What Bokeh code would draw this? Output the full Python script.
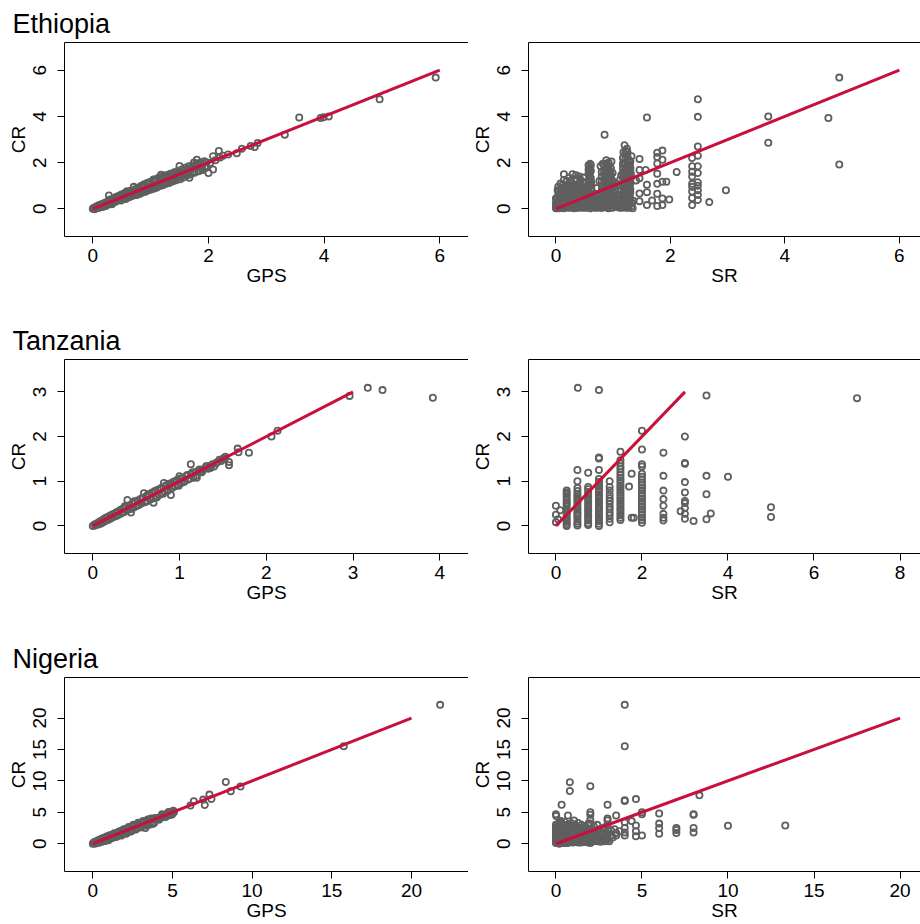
from bokeh.plotting import figure
from bokeh.models import Range1d, FixedTicker, LinearAxis, Title
from bokeh.layouts import column, row
from bokeh.embed import file_html
from bokeh.resources import INLINE

# ---------------- data (CR against GPS and SR) ----------------
countries = ["Ethiopia", "Tanzania", "Nigeria"]

eth_gps_points = [
    (0.00, 0.00), (0.02, 0.05), (0.03, -0.02), (0.05, 0.08), (0.06, 0.02), (0.08, 0.12), (0.09, 0.04),
    (0.10, 0.09), (0.11, 0.16), (0.12, 0.06), (0.14, 0.10), (0.15, 0.20), (0.17, 0.08), (0.18, 0.22),
    (0.20, 0.14), (0.20, 0.19), (0.21, 0.26), (0.23, 0.12), (0.25, 0.30), (0.25, 0.22), (0.26, 0.18),
    (0.28, 0.58), (0.29, 0.22), (0.31, 0.36), (0.32, 0.26), (0.34, 0.42), (0.35, 0.30), (0.36, 0.28),
    (0.38, 0.46), (0.40, 0.34), (0.42, 0.50), (0.44, 0.36), (0.45, 0.50), (0.46, 0.56), (0.48, 0.40),
    (0.50, 0.62), (0.52, 0.44), (0.54, 0.66), (0.55, 0.56), (0.56, 0.48), (0.58, 0.70), (0.60, 0.52),
    (0.62, 0.74), (0.64, 0.55), (0.65, 0.64), (0.66, 0.78), (0.68, 0.58), (0.71, 0.95), (0.72, 0.62),
    (0.75, 0.86), (0.75, 0.74), (0.77, 0.66), (0.80, 0.92), (0.82, 0.70), (0.85, 0.96), (0.85, 0.84),
    (0.87, 0.76), (0.90, 1.02), (0.92, 0.80), (0.95, 1.08), (0.95, 0.94), (0.97, 0.86), (1.00, 1.12),
    (1.02, 0.90), (1.05, 1.27), (1.05, 1.04), (1.07, 0.96), (1.10, 1.18), (1.12, 1.00), (1.15, 1.26),
    (1.15, 1.12), (1.18, 1.47), (1.20, 1.08), (1.22, 1.32), (1.25, 1.12), (1.25, 1.24), (1.28, 1.38),
    (1.30, 1.16), (1.33, 1.42), (1.35, 1.36), (1.36, 1.22), (1.39, 1.50), (1.42, 1.30), (1.45, 1.56),
    (1.45, 1.46), (1.48, 1.36), (1.50, 1.85), (1.52, 1.60), (1.55, 1.42), (1.55, 1.54), (1.58, 1.66),
    (1.61, 1.48), (1.64, 1.72), (1.65, 1.62), (1.67, 1.34), (1.70, 1.76), (1.73, 1.58), (1.75, 2.00),
    (1.78, 1.80), (1.80, 2.12), (1.82, 1.66), (1.85, 1.90), (1.88, 1.74), (1.91, 1.96), (1.94, 1.82),
    (1.97, 2.02), (2.00, 1.55), (2.03, 1.98), (2.08, 1.70), (2.08, 2.28), (2.12, 2.10), (2.18, 2.50),
    (2.20, 2.22), (2.25, 2.30), (2.34, 2.35), (2.49, 2.40), (2.58, 2.60), (2.73, 2.72), (2.80, 2.67),
    (2.85, 2.85), (3.32, 3.21), (3.57, 3.95), (3.94, 3.93), (3.99, 3.96), (4.08, 4.00), (4.96, 4.74),
    (5.93, 5.68),
    (0.30, 0.40), (0.33, 0.20), (0.39, 0.30), (0.41, 0.52), (0.47, 0.58), (0.49, 0.36), (0.53, 0.62),
    (0.57, 0.42), (0.59, 0.76), (0.63, 0.50), (0.67, 0.72), (0.69, 0.56), (0.73, 0.84), (0.76, 0.60),
    (0.79, 0.88), (0.81, 0.64), (0.84, 1.00), (0.86, 0.70), (0.89, 1.06), (0.91, 0.74), (0.94, 1.12),
    (0.96, 0.80), (0.99, 1.16), (1.01, 0.84), (1.04, 1.20), (1.06, 0.88), (1.09, 1.28), (1.11, 0.92),
    (1.14, 1.34), (1.17, 1.00), (1.19, 1.38), (1.21, 1.02), (1.24, 1.44), (1.27, 1.08), (1.29, 1.46),
    (1.32, 1.12), (1.34, 1.52), (1.38, 1.18), (1.41, 1.58), (1.44, 1.24), (1.47, 1.64), (1.51, 1.28),
    (1.54, 1.70), (1.57, 1.36), (1.60, 1.78), (1.63, 1.44), (1.66, 1.84), (1.69, 1.50), (1.72, 1.86),
    (1.76, 1.56), (1.79, 1.94), (1.83, 1.62), (1.86, 2.00), (1.90, 1.68), (1.93, 2.06), (1.96, 1.78),
]

eth_sr_points = [
    (0.00, 0.02), (0.00, 0.10), (0.00, 0.25), (0.02, 0.05), (0.02, 0.40), (0.03, 0.15), (0.04, 0.60),
    (0.05, 0.75), (0.05, 0.30), (0.06, 0.02), (0.07, 0.20), (0.08, 0.45), (0.09, 0.08), (0.10, 0.55),
    (0.10, 0.30), (0.11, 0.85), (0.12, 0.12), (0.13, 0.40), (0.14, 0.65), (0.14, 1.50), (0.15, 0.05),
    (0.16, 0.25), (0.17, 0.90), (0.18, 0.50), (0.19, 0.15), (0.20, 0.35), (0.20, 0.70), (0.22, 0.05),
    (0.23, 0.60), (0.24, 1.00), (0.25, 0.30), (0.26, 1.20), (0.27, 0.15), (0.28, 0.80), (0.29, 1.50),
    (0.30, 0.45), (0.32, 0.02), (0.33, 0.95), (0.34, 0.25), (0.35, 0.65), (0.36, 1.30), (0.37, 0.10),
    (0.38, 0.50), (0.40, 1.10), (0.41, 0.30), (0.42, 0.75), (0.43, 1.25), (0.44, 0.05), (0.45, 0.55),
    (0.46, 0.90), (0.47, 0.20), (0.48, 1.35), (0.50, 0.40), (0.50, 0.70), (0.55, 0.10), (0.56, 0.40),
    (0.57, 0.70), (0.57, 1.70), (0.58, 1.00), (0.58, 1.45), (0.59, 1.30), (0.59, 1.60), (0.60, 1.95),
    (0.60, 1.80), (0.60, 0.02), (0.61, 0.20), (0.61, 0.55), (0.62, 0.85), (0.62, 1.15), (0.65, 0.30),
    (0.68, 0.60), (0.70, 0.10), (0.72, 0.90), (0.75, 0.40), (0.76, 1.20), (0.78, 0.05), (0.78, 1.85),
    (0.83, 0.10), (0.84, 0.50), (0.85, 0.90), (0.85, 3.21), (0.86, 1.30), (0.87, 1.70), (0.88, 2.10),
    (0.88, 0.30), (0.89, 0.70), (0.90, 1.10), (0.90, 1.50), (0.91, 1.90), (0.92, 0.02), (0.92, 2.00),
    (0.93, 0.40), (0.94, 0.80), (0.94, 1.20), (0.95, 1.60), (0.96, 0.15), (0.98, 0.50), (1.00, 0.25),
    (1.02, 0.80), (1.05, 1.10), (1.08, 0.10), (1.10, 0.60), (1.12, 1.25), (1.16, 0.05), (1.17, 0.40),
    (1.18, 0.80), (1.18, 1.20), (1.19, 1.60), (1.20, 2.00), (1.20, 2.75), (1.21, 0.20), (1.22, 0.60),
    (1.22, 1.00), (1.23, 1.40), (1.23, 1.80), (1.24, 2.60), (1.25, 2.28), (1.25, 0.10), (1.26, 0.50),
    (1.27, 0.90), (1.27, 1.30), (1.28, 1.70), (1.29, 1.92), (1.29, 0.30), (1.30, 1.10), (1.30, 0.70),
    (1.30, 1.78), (1.31, 1.50), (1.32, 2.28), (1.40, 1.23), (1.46, 2.16), (1.46, 1.68), (1.46, 1.32),
    (1.46, 0.66), (1.46, 0.33), (1.57, 1.68), (1.59, 3.95), (1.59, 1.04), (1.59, 0.72), (1.59, 0.16),
    (1.68, 0.36), (1.77, 2.43), (1.77, 2.24), (1.77, 1.96), (1.77, 1.52), (1.77, 1.08), (1.77, 0.65),
    (1.77, 0.12), (1.86, 2.52), (1.86, 2.12), (1.86, 1.17), (1.86, 0.45), (1.86, 0.16), (1.93, 1.17),
    (1.98, 0.40), (2.11, 1.59), (2.38, 2.20), (2.38, 1.84), (2.38, 1.60), (2.38, 1.40), (2.38, 1.08),
    (2.38, 0.95), (2.38, 0.75), (2.38, 0.47), (2.38, 0.16), (2.48, 4.74), (2.48, 3.98), (2.48, 2.70),
    (2.48, 2.30), (2.48, 1.84), (2.48, 1.55), (2.48, 1.15), (2.48, 1.00), (2.48, 0.80), (2.48, 0.60),
    (2.48, 0.38), (2.68, 0.29), (2.97, 0.80), (3.71, 4.00), (3.71, 2.86), (4.76, 3.93), (4.95, 5.68),
    (4.95, 1.92),
    (0.00, 0.45), (0.03, 0.28), (0.06, 0.50), (0.09, 0.18), (0.12, 0.38), (0.15, 0.55), (0.18, 0.08),
    (0.21, 0.28), (0.24, 0.48), (0.27, 0.05), (0.30, 0.22), (0.33, 0.42), (0.36, 0.05), (0.39, 0.30),
    (0.42, 0.52), (0.45, 0.10), (0.48, 0.28), (0.51, 0.50), (0.54, 0.05), (0.57, 0.25), (0.60, 0.45),
    (0.63, 0.08), (0.66, 0.50), (0.69, 0.28), (0.72, 0.05), (0.75, 0.22), (0.78, 0.45), (0.81, 0.05),
    (0.84, 0.28), (0.87, 0.50), (0.90, 0.12), (0.93, 0.30), (0.96, 0.48), (0.99, 0.05), (1.02, 0.25),
    (1.05, 0.45), (1.08, 0.30), (1.11, 0.05), (1.14, 0.40), (1.17, 0.20), (1.20, 0.48), (1.23, 0.05),
    (1.26, 0.28), (1.29, 0.50), (1.32, 0.10), (1.35, 0.35), (0.02, 0.12), (0.08, 0.33), (0.14, 0.02),
    (0.20, 0.52), (0.26, 0.38), (0.32, 0.15), (0.38, 0.05), (0.44, 0.40), (0.50, 0.15), (0.56, 0.52),
    (0.62, 0.30), (0.68, 0.05), (0.74, 0.40), (0.80, 0.25), (0.86, 0.15), (0.92, 0.52), (0.98, 0.38),
    (1.04, 0.10), (1.10, 0.52), (1.16, 0.30), (1.22, 0.15), (1.28, 0.40), (1.34, 0.02),
    (0.04, 0.95), (0.09, 0.70), (0.12, 1.05), (0.16, 0.78), (0.19, 1.20), (0.22, 0.88), (0.25, 0.70),
    (0.28, 1.10), (0.31, 0.85), (0.34, 1.25), (0.37, 0.70), (0.40, 0.90), (0.44, 1.05), (0.47, 0.75),
    (0.50, 1.15), (0.52, 0.90), (0.54, 0.65),
    (0.57, 0.30), (0.61, 0.45), (0.57, 0.62), (0.61, 0.78), (0.57, 0.92), (0.61, 1.05), (0.57, 1.18),
    (0.61, 1.32), (0.57, 1.52), (0.61, 1.65), (0.57, 1.88), (0.61, 1.90),
    (0.80, 0.60), (0.80, 0.80), (0.80, 1.00), (0.80, 1.20), (0.80, 1.40), (0.80, 1.60), (0.82, 1.95),
    (0.88, 0.55), (0.88, 0.75), (0.88, 0.95), (0.88, 1.15), (0.88, 1.35), (0.88, 1.55), (0.88, 1.75),
    (0.88, 1.95), (0.96, 0.60), (0.96, 0.85), (0.96, 1.05), (0.96, 1.30), (0.96, 1.45), (0.96, 1.75),
    (0.97, 2.05), (1.00, 0.70), (1.02, 1.00),
    (1.17, 0.60), (1.17, 0.95), (1.17, 1.10), (1.17, 1.35), (1.17, 1.55), (1.17, 1.75), (1.17, 1.95),
    (1.17, 2.20), (1.18, 2.45), (1.25, 0.65), (1.25, 0.80), (1.25, 1.05), (1.25, 1.25), (1.25, 1.45),
    (1.25, 1.65), (1.25, 1.85), (1.25, 2.05), (1.25, 2.45), (1.30, 0.85), (1.30, 1.25), (1.30, 1.65),
    (1.30, 2.05), (1.14, 0.80), (1.14, 1.45),
    (0.01, 0.20), (0.04, 0.05), (0.07, 0.38), (0.10, 0.15), (0.13, 0.52), (0.16, 0.40), (0.19, 0.30),
    (0.22, 0.42), (0.25, 0.12), (0.28, 0.35), (0.31, 0.58), (0.34, 0.08), (0.37, 0.40), (0.40, 0.18),
    (0.43, 0.30), (0.46, 0.45), (0.49, 0.05), (0.52, 0.25), (0.55, 0.38), (0.58, 0.12), (0.61, 0.62),
    (0.64, 0.40), (0.67, 0.18), (0.70, 0.42), (0.73, 0.60), (0.76, 0.10), (0.79, 0.32), (0.82, 0.48),
    (0.85, 0.20), (0.88, 0.42), (0.91, 0.05), (0.94, 0.22), (0.97, 0.62), (1.00, 0.45), (1.03, 0.15),
    (1.06, 0.60), (1.09, 0.18), (1.12, 0.42), (1.15, 0.12), (1.18, 0.30), (1.21, 0.55), (1.24, 0.22),
    (1.27, 0.05), (1.30, 0.40), (1.33, 0.25),
    (0.03, 0.80), (0.07, 0.62), (0.11, 0.72), (0.15, 0.95), (0.18, 0.62), (0.21, 1.05), (0.24, 0.82),
    (0.27, 0.62), (0.30, 1.00), (0.33, 0.78), (0.36, 0.90), (0.39, 0.62), (0.42, 0.98), (0.45, 0.72),
    (0.48, 0.88), (0.51, 0.62), (0.35, 1.45), (0.23, 1.35), (0.41, 1.40), (0.08, 1.10), (0.14, 1.25),
    (0.59, 0.35), (0.59, 0.68), (0.59, 0.98), (0.59, 1.22), (0.59, 1.50), (0.59, 1.75),
    (0.84, 0.65), (0.84, 0.88), (0.84, 1.08), (0.84, 1.28), (0.84, 1.50), (0.84, 1.68), (0.84, 1.90),
    (0.92, 0.68), (0.92, 0.90), (0.92, 1.12), (0.92, 1.30), (0.92, 1.48), (0.92, 1.70), (0.92, 1.85),
    (0.99, 0.95), (0.99, 1.20), (0.99, 1.55),
    (1.21, 0.62), (1.21, 0.85), (1.21, 1.15), (1.21, 1.35), (1.21, 1.55), (1.21, 1.72), (1.21, 1.90),
    (1.21, 2.15), (1.21, 2.35), (1.28, 0.60), (1.28, 0.95), (1.28, 1.15), (1.28, 1.40), (1.28, 1.55),
    (1.28, 1.85), (1.28, 2.10), (1.22, 2.50),
]

tan_gps_points = [
    (0.00, 0.00), (0.02, 0.03), (0.03, 0.01), (0.05, 0.06), (0.06, 0.03), (0.08, 0.10), (0.09, 0.05),
    (0.11, 0.13), (0.12, 0.08), (0.14, 0.17), (0.15, 0.11), (0.17, 0.20), (0.18, 0.14), (0.20, 0.23),
    (0.21, 0.17), (0.23, 0.26), (0.24, 0.20), (0.26, 0.29), (0.27, 0.22), (0.29, 0.32), (0.30, 0.25),
    (0.32, 0.36), (0.33, 0.28), (0.35, 0.39), (0.36, 0.31), (0.38, 0.42), (0.40, 0.58), (0.40, 0.35),
    (0.42, 0.46), (0.44, 0.30), (0.44, 0.38), (0.46, 0.50), (0.47, 0.41), (0.49, 0.53), (0.50, 0.44),
    (0.52, 0.57), (0.53, 0.47), (0.55, 0.60), (0.56, 0.50), (0.58, 0.63), (0.59, 0.73), (0.60, 0.53),
    (0.62, 0.67), (0.63, 0.56), (0.65, 0.70), (0.66, 0.59), (0.68, 0.74), (0.70, 0.52), (0.70, 0.62),
    (0.72, 0.78), (0.73, 0.66), (0.75, 0.81), (0.77, 0.70), (0.79, 0.85), (0.80, 0.73), (0.82, 0.96),
    (0.83, 0.77), (0.85, 0.91), (0.87, 0.81), (0.89, 0.95), (0.90, 0.69), (0.91, 0.85), (0.93, 0.99),
    (0.95, 0.89), (0.97, 1.03), (0.98, 0.92), (1.00, 1.11), (1.02, 0.96), (1.04, 1.08), (1.06, 1.00),
    (1.08, 1.12), (1.10, 1.04), (1.13, 1.38), (1.13, 1.16), (1.16, 1.08), (1.18, 1.20), (1.20, 1.08),
    (1.22, 1.24), (1.24, 1.22), (1.27, 1.26), (1.30, 1.30), (1.33, 1.28), (1.35, 1.34), (1.38, 1.38),
    (1.40, 1.33), (1.43, 1.42), (1.48, 1.45), (1.51, 1.52), (1.53, 1.55), (1.57, 1.43), (1.57, 1.36),
    (1.67, 1.73), (1.68, 1.65), (1.80, 1.64), (2.06, 2.00), (2.13, 2.13), (2.96, 2.91), (3.17, 3.09),
    (3.34, 3.04), (3.92, 2.87),
    (0.10, 0.07), (0.16, 0.18), (0.22, 0.19), (0.28, 0.31), (0.34, 0.31), (0.37, 0.44), (0.43, 0.40),
    (0.48, 0.55), (0.51, 0.46), (0.57, 0.62), (0.61, 0.55), (0.64, 0.71), (0.67, 0.60), (0.71, 0.77),
    (0.74, 0.64), (0.78, 0.82), (0.81, 0.72), (0.84, 0.90), (0.86, 0.78), (0.88, 0.93), (0.92, 0.86),
    (0.96, 1.00), (0.99, 0.90), (1.01, 1.06), (1.05, 0.98), (1.09, 1.14), (1.12, 1.06), (1.15, 1.20),
    (1.19, 1.12), (1.23, 1.26), (1.26, 1.20), (1.31, 1.34), (1.36, 1.30), (1.42, 1.40), (1.46, 1.48),
    (1.52, 1.50),
]

tan_sr_points = [
    (0.00, 0.45), (0.00, 0.25), (0.00, 0.08), (0.05, 0.15), (0.10, 0.35),
    (0.25, 0.00), (0.25, 0.04), (0.25, 0.09), (0.25, 0.13), (0.25, 0.18), (0.25, 0.24), (0.25, 0.29),
    (0.25, 0.33), (0.25, 0.38), (0.25, 0.44), (0.25, 0.49), (0.25, 0.53), (0.25, 0.58), (0.25, 0.64),
    (0.25, 0.70), (0.25, 0.74), (0.25, 0.79),
    (0.50, 0.01), (0.50, 0.05), (0.50, 0.10), (0.50, 0.16), (0.50, 0.21), (0.50, 0.26), (0.50, 0.30),
    (0.50, 0.36), (0.50, 0.41), (0.50, 0.46), (0.50, 0.52), (0.50, 0.57), (0.50, 0.62), (0.50, 0.67),
    (0.50, 0.72), (0.50, 0.78), (0.50, 0.85), (0.50, 1.00), (0.50, 1.25), (0.51, 3.09),
    (0.75, 0.02), (0.75, 0.06), (0.75, 0.12), (0.75, 0.17), (0.75, 0.22), (0.75, 0.27), (0.75, 0.33),
    (0.75, 0.38), (0.75, 0.43), (0.75, 0.48), (0.75, 0.54), (0.75, 0.59), (0.75, 0.64), (0.75, 0.70),
    (0.75, 0.76), (0.75, 0.82), (0.75, 0.87), (0.75, 1.19),
    (1.00, 0.00), (1.00, 0.05), (1.00, 0.11), (1.00, 0.15), (1.00, 0.20), (1.00, 0.25), (1.00, 0.31),
    (1.00, 0.36), (1.00, 0.40), (1.00, 0.46), (1.00, 0.51), (1.00, 0.56), (1.00, 0.61), (1.00, 0.66),
    (1.00, 0.71), (1.00, 0.77), (1.00, 0.82), (1.00, 0.88), (1.00, 0.93), (1.00, 0.98), (1.00, 1.05),
    (1.00, 1.25), (1.00, 1.51), (1.00, 1.53), (1.00, 3.04),
    (1.25, 0.08), (1.25, 0.16), (1.25, 0.24), (1.25, 0.30), (1.25, 0.37), (1.25, 0.43), (1.25, 0.50),
    (1.25, 0.56), (1.25, 0.62), (1.25, 0.70), (1.25, 0.79), (1.25, 0.87), (1.25, 1.00),
    (1.50, 0.13), (1.50, 0.18), (1.50, 0.24), (1.50, 0.29), (1.50, 0.35), (1.50, 0.40), (1.50, 0.46),
    (1.50, 0.51), (1.50, 0.57), (1.50, 0.62), (1.50, 0.68), (1.50, 0.74), (1.50, 0.79), (1.50, 0.85),
    (1.50, 0.90), (1.50, 0.96), (1.50, 1.02), (1.50, 1.08), (1.50, 1.14), (1.50, 1.20), (1.50, 1.27),
    (1.50, 1.33), (1.50, 1.40), (1.50, 1.47), (1.50, 1.66),
    (1.76, 1.17), (1.70, 0.88), (1.76, 0.18), (1.81, 0.18),
    (2.00, 0.07), (2.00, 0.13), (2.00, 0.19), (2.00, 0.25), (2.00, 0.31), (2.00, 0.37), (2.00, 0.43),
    (2.00, 0.49), (2.00, 0.55), (2.00, 0.61), (2.00, 0.67), (2.00, 0.73), (2.00, 0.79), (2.00, 0.85),
    (2.00, 0.91), (2.00, 0.97), (2.00, 1.04), (2.00, 1.10), (2.00, 1.17), (2.00, 1.33), (2.00, 1.38),
    (2.00, 1.71), (2.00, 2.13),
    (2.50, 1.64), (2.50, 1.12), (2.50, 0.79), (2.50, 0.60), (2.50, 0.45), (2.50, 0.27), (2.50, 0.18),
    (2.50, 0.12),
    (3.00, 2.00), (3.00, 1.39), (3.00, 1.41), (3.00, 0.98), (3.00, 0.75), (3.00, 0.56), (3.00, 0.51),
    (3.00, 0.40), (3.00, 0.27), (3.00, 0.16),
    (2.90, 0.33), (3.20, 0.11), (3.50, 2.92), (3.50, 1.12), (3.50, 0.71), (3.60, 0.28), (3.50, 0.15),
    (4.00, 1.10), (5.00, 0.42), (5.00, 0.20), (7.00, 2.86),
]

nig_gps_points = [
    (0.00, 0.00), (0.05, 0.10), (0.10, 0.02), (0.15, 0.30), (0.20, 0.12), (0.25, 0.40), (0.30, 0.20),
    (0.35, 0.55), (0.40, 0.25), (0.45, 0.60), (0.50, 0.35), (0.55, 0.75), (0.60, 0.45), (0.65, 0.85),
    (0.70, 0.50), (0.75, 0.95), (0.80, 0.60), (0.85, 1.05), (0.90, 0.70), (0.95, 1.20), (1.00, 0.75),
    (1.10, 1.35), (1.15, 0.85), (1.25, 1.45), (1.30, 1.00), (1.40, 1.60), (1.45, 1.15), (1.55, 1.75),
    (1.60, 1.30), (1.70, 1.95), (1.75, 1.40), (1.85, 2.10), (1.90, 1.55), (2.00, 2.25), (2.05, 1.70),
    (2.15, 2.40), (2.20, 1.85), (2.30, 2.60), (2.35, 2.00), (2.45, 2.75), (2.50, 2.20), (2.60, 2.90),
    (2.65, 2.40), (2.75, 3.00), (2.80, 2.55), (2.90, 3.15), (2.95, 2.70), (3.05, 3.30), (3.10, 2.85),
    (3.20, 3.45), (3.30, 2.50), (3.30, 3.05), (3.40, 3.60), (3.50, 3.20), (3.60, 3.75), (3.70, 3.35),
    (3.80, 3.90), (3.85, 3.30), (4.00, 3.95), (4.10, 4.15), (4.20, 4.05), (4.30, 4.40), (4.40, 4.20),
    (4.50, 4.60), (4.60, 4.35), (4.70, 4.80), (4.80, 4.55), (4.90, 5.00), (5.00, 4.75), (5.10, 5.05),
    (6.13, 6.07), (6.34, 6.76), (6.93, 7.02), (7.03, 6.17), (7.32, 7.82), (7.45, 7.13), (8.35, 9.84),
    (8.66, 8.35), (9.27, 9.10), (15.75, 15.50), (21.80, 22.10),
    (0.08, 0.25), (0.18, 0.05), (0.28, 0.45), (0.38, 0.15), (0.48, 0.70), (0.58, 0.30), (0.68, 0.95),
    (0.78, 0.45), (0.88, 1.15), (0.98, 0.55), (1.05, 1.30), (1.20, 0.95), (1.35, 1.65), (1.50, 1.10),
    (1.65, 1.95), (1.80, 1.30), (1.95, 2.30), (2.10, 1.60), (2.25, 2.65), (2.40, 1.95), (2.55, 3.00),
    (2.70, 2.25), (2.85, 3.35), (3.00, 2.60), (3.15, 3.60), (3.35, 2.85), (3.45, 3.85), (3.55, 3.00),
    (3.65, 4.00), (3.75, 3.15), (3.90, 4.10), (4.15, 3.80), (4.35, 4.70), (4.55, 4.25), (4.75, 5.05),
    (4.95, 4.60), (5.05, 5.25),
]

nig_sr_points = [
    (0.00, 0.1), (0.00, 0.5), (0.00, 1.0), (0.00, 1.5), (0.00, 2.0), (0.00, 2.5), (0.00, 3.0),
    (0.00, 4.7), (0.02, 4.4), (0.10, 0.3), (0.10, 1.2), (0.10, 2.2), (0.20, 0.0), (0.20, 0.8),
    (0.20, 1.7), (0.20, 2.8), (0.25, 3.4), (0.33, 6.2), (0.33, 0.4), (0.33, 1.4), (0.33, 2.4),
    (0.40, 0.1), (0.40, 1.0), (0.40, 2.0), (0.40, 3.0), (0.50, 0.6), (0.50, 1.6), (0.50, 2.6),
    (0.50, 3.5), (0.60, 0.2), (0.60, 1.2), (0.60, 2.2), (0.70, 0.8), (0.70, 1.8), (0.70, 4.5),
    (0.70, 3.0), (0.81, 9.8), (0.81, 8.4), (0.80, 0.3), (0.80, 1.4), (0.80, 2.4), (0.90, 1.0),
    (0.90, 2.0), (0.90, 3.3), (1.00, 0.2), (1.00, 0.6), (1.00, 1.5), (1.00, 2.5), (1.05, 3.7),
    (1.10, 1.1), (1.10, 2.0), (1.10, 3.0), (1.20, 0.5), (1.20, 1.7), (1.20, 2.7), (1.30, 0.2),
    (1.30, 1.2), (1.30, 2.2), (1.30, 3.3), (1.40, 0.8), (1.40, 1.8), (1.50, 0.4), (1.50, 1.4),
    (1.50, 2.5), (1.50, 3.0), (1.60, 1.0), (1.60, 2.0), (1.70, 0.6), (1.70, 1.6), (1.70, 2.8),
    (1.80, 0.3), (1.80, 1.2), (1.80, 2.2), (1.90, 0.9), (1.90, 1.8), (1.90, 3.2), (2.00, 0.1),
    (2.00, 0.6), (2.00, 1.4), (2.00, 2.4), (2.00, 3.2), (2.00, 3.8), (2.00, 4.6), (2.00, 5.0),
    (2.00, 9.16), (2.20, 0.8), (2.20, 1.8), (2.20, 2.8), (2.40, 0.4), (2.40, 1.4), (2.40, 3.0),
    (2.50, 2.3), (2.70, 0.6), (2.70, 1.7), (2.80, 1.0), (2.80, 2.6), (3.00, 6.2), (3.00, 4.0),
    (3.00, 3.7), (3.00, 3.0), (3.00, 2.2), (3.00, 1.5), (3.00, 1.0), (3.00, 0.6), (3.20, 1.3),
    (3.20, 2.1), (3.50, 4.5), (3.50, 1.3), (3.50, 1.7), (3.70, 2.0), (4.00, 22.1), (4.00, 15.5),
    (4.00, 6.8), (4.00, 6.9), (4.00, 3.4), (4.00, 2.5), (4.00, 1.8), (4.00, 1.3), (4.40, 3.6),
    (4.65, 7.1), (4.65, 2.9), (4.65, 2.0), (4.65, 1.2), (5.00, 5.0), (5.00, 4.7), (5.00, 1.3),
    (6.00, 4.8), (6.00, 3.2), (6.00, 2.5), (6.00, 1.6), (7.00, 2.5), (7.00, 2.2), (7.00, 1.7),
    (8.00, 4.7), (8.00, 4.6), (8.00, 2.5), (8.00, 1.8), (8.34, 7.7), (10.00, 2.87), (13.33, 2.9),
    (0.05, 0.7), (0.05, 1.8), (0.05, 2.7), (0.15, 0.6), (0.15, 1.5), (0.15, 3.2), (0.25, 0.2),
    (0.25, 1.1), (0.25, 2.0), (0.30, 3.6), (0.45, 0.4), (0.45, 1.3), (0.45, 2.4), (0.55, 0.1),
    (0.55, 1.0), (0.55, 2.0), (0.65, 0.5), (0.65, 1.5), (0.65, 2.6), (0.75, 0.2), (0.75, 1.2),
    (0.75, 2.2), (0.85, 0.7), (0.85, 1.7), (0.95, 0.3), (0.95, 1.3), (0.95, 2.4), (1.05, 0.9),
    (1.05, 1.9), (1.15, 0.3), (1.15, 1.5), (1.25, 1.0), (1.25, 2.0), (1.35, 0.6), (1.35, 1.6),
    (1.45, 0.2), (1.45, 1.2), (1.45, 2.2), (1.55, 0.8), (1.55, 1.8), (1.65, 0.3), (1.65, 1.3),
    (1.75, 0.9), (1.75, 2.0), (1.85, 0.5), (1.85, 1.5), (1.95, 1.0), (1.95, 2.0), (2.10, 0.3),
    (2.10, 1.2), (2.10, 2.2), (2.30, 0.6), (2.30, 1.6), (2.50, 1.0), (2.60, 0.3), (2.60, 1.9),
    (2.90, 0.8), (2.90, 1.8), (3.10, 0.4), (3.30, 1.0), (3.40, 2.3),
    (0.08, 0.3), (0.08, 1.3), (0.08, 2.3), (0.18, 1.0), (0.18, 2.0), (0.18, 3.0), (0.28, 0.6),
    (0.28, 1.6), (0.28, 2.6), (0.38, 0.3), (0.38, 1.3), (0.38, 2.3), (0.48, 0.9), (0.48, 1.9),
    (0.48, 3.0), (0.58, 0.5), (0.58, 1.5), (0.58, 2.5), (0.68, 0.1), (0.68, 1.1), (0.68, 2.1),
    (0.78, 0.8), (0.78, 1.8), (0.78, 2.8), (0.88, 0.4), (0.88, 1.4), (0.88, 2.4), (0.98, 1.0),
    (0.98, 2.0), (1.08, 0.5), (1.08, 1.5), (1.08, 2.6), (1.18, 0.9), (1.18, 2.0), (1.28, 0.5),
    (1.28, 1.6), (1.38, 1.0), (1.38, 2.4), (1.48, 0.7), (1.48, 1.7), (1.58, 0.3), (1.58, 1.3),
    (1.68, 1.0), (1.68, 2.2), (1.78, 0.6), (1.78, 1.6), (1.88, 0.2), (1.88, 1.2), (1.98, 0.4),
    (1.98, 1.7), (2.15, 1.5), (2.35, 1.0), (2.45, 2.0), (2.65, 1.3), (2.85, 0.4),
]

# 45-degree reference lines (CR = x)
eth_line = [0, 6]
tan_line = [0, 3]
nig_line = [0, 20]

# tick positions
eth_x_ticks = [0, 2, 4, 6]
eth_y_ticks = [0, 2, 4, 6]
tan_gps_ticks = [0, 1, 2, 3, 4]
tan_sr_ticks = [0, 2, 4, 6, 8]
tan_y_ticks = [0, 1, 2, 3]
nig_x_ticks = [0, 5, 10, 15, 20]
nig_y_ticks = [0, 5, 10, 15, 20]

# ---------------- style ----------------
FONT = "Liberation Sans"
PT_COLOR = "#5f5f5f"
LINE_COLOR = "#C8103C"
TICK_FS = "19px"


def style_axis(ax, ticks, label, vertical=False):
    ax.ticker = FixedTicker(ticks=ticks)
    ax.minor_tick_line_color = None
    ax.major_tick_in = 0
    ax.major_tick_out = 7
    ax.major_tick_line_color = "black"
    ax.axis_line_color = "black"
    ax.major_label_text_font = FONT
    ax.major_label_text_font_size = TICK_FS
    ax.major_label_text_color = "black"
    ax.axis_label = label
    ax.axis_label_text_font = FONT
    ax.axis_label_text_font_size = TICK_FS
    ax.axis_label_text_font_style = "normal"
    ax.axis_label_text_color = "black"
    if vertical:
        ax.major_label_orientation = "vertical"
        ax.major_label_standoff = 11
        ax.axis_label_standoff = 2
    else:
        ax.major_label_standoff = 5
        ax.axis_label_standoff = 0


def panel(points, line_vals, xr, yr, xticks, yticks, xlabel, width, height, left, bottom,
          title=None):
    p = figure(width=width, height=height, x_range=Range1d(*xr), y_range=Range1d(*yr),
               output_backend="svg", toolbar_location=None,
               min_border_left=left, min_border_right=0, min_border_top=42,
               min_border_bottom=bottom)
    p.outline_line_color = None
    p.xgrid.visible = False
    p.ygrid.visible = False
    p.background_fill_color = "white"
    p.border_fill_color = "white"
    xs = [a for a, b in points]
    ys = [b for a, b in points]
    p.scatter(xs, ys, marker="circle", size=6.2, fill_color=None,
              line_color=PT_COLOR, line_width=1.8)
    p.line(line_vals, line_vals, line_color=LINE_COLOR, line_width=3)
    style_axis(p.xaxis[0], xticks, xlabel)
    style_axis(p.yaxis[0], yticks, "CR", vertical=True)
    top_axis = LinearAxis(ticker=FixedTicker(ticks=[]), major_tick_line_color=None,
                          minor_tick_line_color=None, major_label_text_font_size="0px",
                          axis_line_color="black", major_label_standoff=0, axis_label_standoff=0)
    p.add_layout(top_axis, "above")
    if title:
        p.add_layout(Title(text=title, align="left", offset=-52, standoff=7,
                           text_font=FONT, text_font_size="27px", text_font_style="normal",
                           text_color="black"), "above")
    return p


LW, RW = 468, 452
H1, H2, H3 = 317, 318, 289

p11 = panel(eth_gps_points, eth_line, (-0.489, 6.497), (-1.20, 7.20), eth_x_ticks, eth_y_ticks,
            "GPS", LW, H1, 64, 81, countries[0])
p12 = panel(eth_sr_points, eth_line, (-0.479, 6.369), (-1.20, 7.20), eth_x_ticks, eth_y_ticks,
            "SR", RW, H1, 56, 81)
p21 = panel(tan_gps_points, tan_line, (-0.326, 4.331), (-0.618, 3.725), tan_gps_ticks, tan_y_ticks,
            "GPS", LW, H2, 64, 82, countries[1])
p22 = panel(tan_sr_points, tan_line, (-0.6375, 8.476), (-0.618, 3.725), tan_sr_ticks, tan_y_ticks,
            "SR", RW, H2, 56, 82)
p31 = panel(nig_gps_points, nig_line, (-1.776, 23.58), (-4.42, 26.45), nig_x_ticks, nig_y_ticks,
            "GPS", LW, H3, 64, 53, countries[2])
p32 = panel(nig_sr_points, nig_line, (-1.594, 21.19), (-4.42, 26.45), nig_x_ticks, nig_y_ticks,
            "SR", RW, H3, 56, 53)

layout = column(row(p11, p12), row(p21, p22), row(p31, p32))

with open("out.html", "w") as f:
    f.write(file_html(layout, INLINE))
